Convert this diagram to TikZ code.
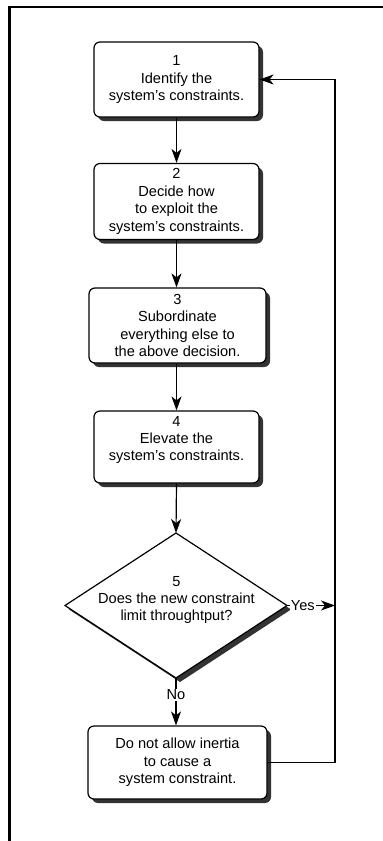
\documentclass[tikz,border=0pt]{standalone}
\usepackage{fontspec}
\setmainfont{Liberation Sans}
\usetikzlibrary{arrows.meta,shapes.geometric}
\begin{document}
\begin{tikzpicture}[x=1pt,y=-1pt,
  txt/.style={font=\fontsize{14.6}{17.4}\selectfont, align=center, text=black},
  stepbox/.style={txt, draw=black, line width=1.2pt, fill=white, rounded corners=6pt, inner sep=0pt},
  shadowc/.style={fill=black!80, rounded corners=6pt},
  arr/.style={draw=black, line width=1.2pt, -{Stealth[length=14pt,width=10pt,inset=4pt]}},
  lab/.style={font=\fontsize{14.6}{17.4}\selectfont, fill=white, inner sep=1pt}
]
\useasboundingbox (0,0) rectangle (383,841);
% frame
\draw[line width=2.4pt] (9.5,841) -- (9.5,7) -- (383,7);

% shadows (drawn first, offset down-right)
\fill[shadowc] (98,46) rectangle (263,121);
\fill[shadowc] (98,167.5) rectangle (263,243.5);
\fill[shadowc] (93,292) rectangle (270,367);
\fill[shadowc] (98,415) rectangle (263,487);
\fill[shadowc] (92,730) rectangle (271,803);
\fill[black!80] (180,537) -- (291,609.5) -- (180,682) -- (69,609.5) -- cycle;

\node[stepbox, minimum width=165pt, minimum height=75pt] (b1) at (176.5,79.5)
  {1\\Identify the\\system's constraints.};
\node[stepbox, minimum width=165pt, minimum height=76pt] (b2) at (176.5,201.5)
  {2\\Decide how\\to exploit the\\system's constraints.};
\node[stepbox, minimum width=177pt, minimum height=75pt] (b3) at (177.5,325.5)
  {3\\Subordinate\\everything else to\\the above decision.};
\node[stepbox, minimum width=165pt, minimum height=72pt] (b4) at (176.5,447)
  {};
\node[txt] at (176.5,440) {4\\Elevate the\\system's constraints.};
\draw[line width=1.2pt, fill=white] (176,533) -- (287,605.5) -- (176,678) -- (65,605.5) -- cycle;
\coordinate (d5n) at (176,533);
\coordinate (d5s) at (176,678);
\coordinate (d5e) at (287,605.5);
\node[txt] (d5) at (176.5,600) {5\\Does the new constraint\\limit throughtput?};
\node[stepbox, minimum width=179pt, minimum height=73pt] (b6) at (177.5,762.5)
  {Do not allow inertia\\to cause a\\system constraint.};

\coordinate (yj) at (335,605.5);
\coordinate (rtop) at (335,79.5);

\draw[arr] (b1.south) -- (b1.south |- b2.north);
\draw[arr] (b2.south) -- (b2.south |- b3.north);
\draw[arr] (b3.south -| b4.south) -- (b4.north);
\draw[arr] (b4.south) -- (d5n);
\draw[arr] (d5s) -- node[lab, pos=0.35]{No} (d5s |- b6.north);
\draw[arr] (d5e) -- node[lab, pos=0.33]{Yes} (yj);
\draw[arr] (b6.east) -| (rtop) -- (b1.east);
\end{tikzpicture}
\end{document}
